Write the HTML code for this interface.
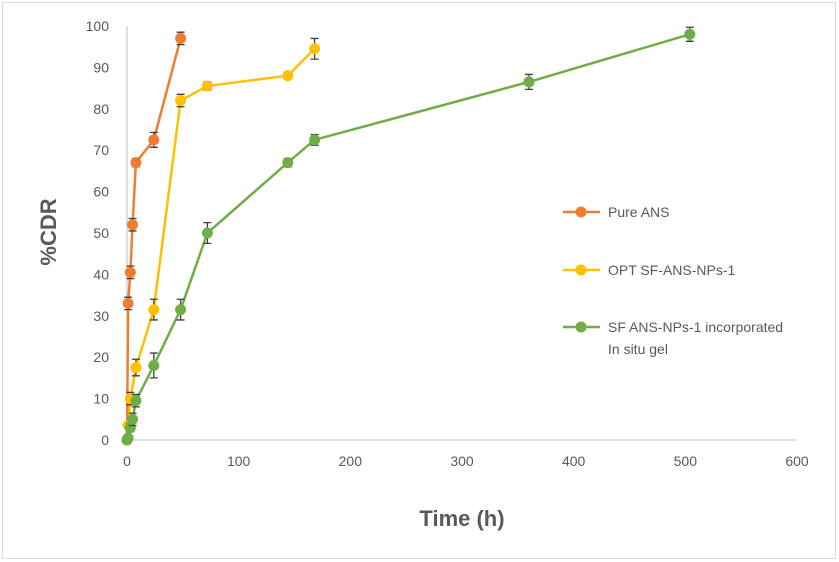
<!DOCTYPE html>
<html><head><meta charset="utf-8"><style>
body{margin:0;background:#fff}
svg{display:block;font-family:"Liberation Sans",sans-serif}
</style></head><body>
<svg id="s" width="839" height="562" xmlns="http://www.w3.org/2000/svg">
<rect x="2.5" y="2.5" width="833" height="556" fill="#fff" stroke="#d9d9d9"/>
</svg>
<script>
const s=document.getElementById('s');
const X=v=>127+v*670/600, Y=v=>440-v*4.14;
let h='';
// axes
h+=`<line x1="127" y1="${Y(0)}" x2="797" y2="${Y(0)}" stroke="#bfbfbf"/>`;
h+=`<line x1="127" y1="${Y(0)}" x2="127" y2="${Y(100)}" stroke="#bfbfbf"/>`;
for(let v=0;v<=100;v+=10)h+=`<text x="109" y="${Y(v)+5}" font-size="14" fill="#595959" text-anchor="end">${v}</text>`;
for(let v=0;v<=600;v+=100)h+=`<text x="${X(v)}" y="466" font-size="14" fill="#595959" text-anchor="middle">${v}</text>`;
h+=`<text x="462" y="526" font-size="22" font-weight="bold" fill="#595959" text-anchor="middle">Time (h)</text>`;
h+=`<text transform="translate(56,232) rotate(-90)" font-size="22" font-weight="bold" fill="#595959" text-anchor="middle">%CDR</text>`;
const series=[
 ['#ed7d31',[[0,0,0],[1,33,1.5],[3,40.5,1.5],[5,52,1.5],[8,67,1],[24,72.5,1.8],[48,97,1.5]]],
 ['#ffc000',[[0,0,0],[1,3.5,0.5],[3,10,1.5],[8,17.5,2],[24,31.5,2.5],[48,82,1.5],[72,85.5,1],[144,88,0.5],[168,94.5,2.5]]],
 ['#70ad47',[[0,0,0],[1,0.5,0.3],[3,3,1],[5,5,1.5],[8,9.5,1.5],[24,18,3],[48,31.5,2.5],[72,50,2.5],[144,67,1],[168,72.5,1.3],[360,86.5,1.8],[504,98,1.7]]]
];
for(const [c,d] of series){
 h+=`<polyline fill="none" stroke="${c}" stroke-width="2.5" points="${d.map(p=>X(p[0])+','+Y(p[1])).join(' ')}"/>`;
}
for(const [c,d] of series){
 for(const p of d){
  const x=X(p[0]);
  if(p[2]>0.2){const a=Y(p[1]+p[2]),b=Y(p[1]-p[2]);
   h+=`<path d="M${x},${a}V${b}M${x-4},${a}H${x+4}M${x-4},${b}H${x+4}" stroke="#404040" stroke-width="1.3" fill="none"/>`;}
  h+=`<circle cx="${x}" cy="${Y(p[1])}" r="5.5" fill="${c}"/>`;
 }
}
const leg=[['#ed7d31',212,['Pure ANS']],['#ffc000',270,['OPT SF-ANS-NPs-1']],['#70ad47',327,['SF ANS-NPs-1 incorporated','In situ gel']]];
for(const [c,y,t] of leg){
 h+=`<line x1="563" y1="${y}" x2="600" y2="${y}" stroke="${c}" stroke-width="2.5"/><circle cx="581" cy="${y}" r="5.5" fill="${c}"/>`;
 t.forEach((tt,i)=>h+=`<text x="608" y="${y+5+i*22}" font-size="14" fill="#595959">${tt}</text>`);
}
s.insertAdjacentHTML('beforeend',h);
</script>
</body></html>
